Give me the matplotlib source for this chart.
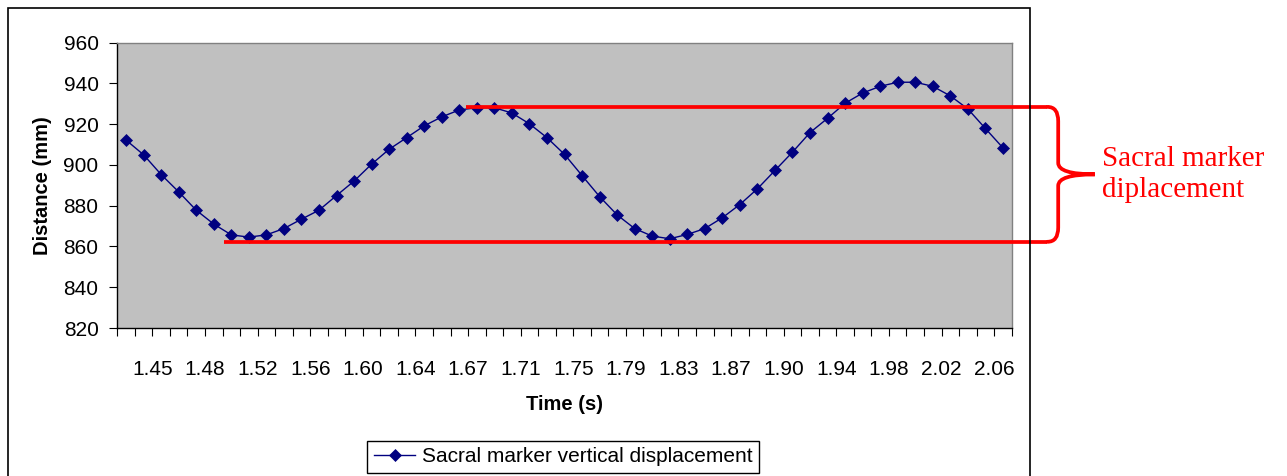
"""
Sacral marker vertical displacement — Excel 스타일 선 그래프 재현.
회색 plot area + 남색 diamond marker 선, 오른쪽에 최대/최소 수평선과 중괄호 주석.
"""
import numpy as np
import matplotlib
matplotlib.use('Agg')
import matplotlib.pyplot as plt
from matplotlib.patches import PathPatch, Rectangle
from matplotlib.path import Path

plt.rcParams.update({
    'font.family': 'sans-serif',
    'font.sans-serif': ['Liberation Sans', 'DejaVu Sans'],
})

# --- data ---
time_labels = ['1.45', '1.48', '1.52', '1.56', '1.60', '1.64', '1.67', '1.71', '1.75',
               '1.79', '1.83', '1.87', '1.90', '1.94', '1.98', '2.02', '2.06']
distance_mm = [912.2, 905.0, 895.3, 886.8, 877.8, 871.0, 865.7, 864.6, 865.7, 868.8,
               873.4, 877.8, 885.0, 892.1, 900.4, 907.7, 913.4, 919.2, 923.6, 927.0,
               928.1, 928.1, 925.5, 920.2, 913.4, 905.2, 894.8, 884.5, 875.5, 868.8,
               865.1, 863.8, 865.9, 868.8, 874.1, 880.6, 888.3, 897.3, 906.3, 915.9,
               922.9, 930.3, 935.3, 938.6, 940.6, 940.6, 938.6, 933.9, 927.5, 917.9,
               908.4]
disp_max_mm = 928.5      # 위쪽 빨간 수평선
disp_min_mm = 862.3      # 아래쪽 빨간 수평선
max_line_start = 19.4    # category index 기준 시작점
min_line_start = 5.6
annot_text = 'Sacral marker\ndiplacement'
series_name = 'Sacral marker vertical displacement'

# --- style ---
_W, _H = 1287, 476
_LINE_COLOR = '#000080'
_RED = '#FF0000'
_RED_LW = 2.7
_TICK_FS = 15
_LABEL_FS = 14.5
_LABEL_STEP = 3          # x tick label 은 3 category 마다


def main():
    fig = plt.figure(figsize=(_W / 100, _H / 100), dpi=100)
    # plot area: x 117~1012 px, y 43~328 px
    ax = fig.add_axes([117.3 / _W, 1 - 328 / _H, (1011.7 - 117.3) / _W, (328 - 42.7) / _H])
    ax.set_facecolor('#C0C0C0')

    n = len(distance_mm)
    x = np.arange(n)
    ax.plot(x, distance_mm, '-', color=_LINE_COLOR, lw=1.0, marker='D', ms=6.3,
            mfc=_LINE_COLOR, mec=_LINE_COLOR, mew=0.5, label=series_name, zorder=3)

    ax.set_xlim(-0.5, n - 0.5)
    ax.set_ylim(820, 960)
    ax.set_yticks(np.arange(820, 961, 20))

    # category 경계마다 tick, label 은 경계 2, 5, 8, ... 위치
    ax.set_xticks(np.arange(-0.5, n, 1.0), minor=True)
    ax.set_xticks(np.arange(len(time_labels)) * _LABEL_STEP + 1.5)
    ax.set_xticklabels(time_labels)
    ax.tick_params(axis='x', which='both', length=6, width=0.8, direction='out',
                   labelsize=_TICK_FS, pad=17)
    ax.tick_params(axis='y', length=6, width=0.8, direction='out',
                   labelsize=_TICK_FS, pad=7.5)

    for side in ('top', 'right'):
        ax.spines[side].set_color('#808080')
        ax.spines[side].set_linewidth(1.0)
    for side in ('left', 'bottom'):
        ax.spines[side].set_color('black')
        ax.spines[side].set_linewidth(1.0)

    ax.set_xlabel('Time (s)', fontsize=_LABEL_FS, fontweight='bold')
    ax.set_ylabel('Distance (mm)', fontsize=_LABEL_FS, fontweight='bold')
    ax.xaxis.set_label_coords(0.5, -0.234)
    ax.yaxis.set_label_coords(-0.073, 0.5)

    # --- 빨간 수평선 + 중괄호 (축 밖까지, data 좌표) ---
    x0, x1 = ax.get_xlim()
    span = x1 - x0
    line_end = x0 + 1.040 * span
    brace_x = x0 + 1.052 * span
    tip_x = x0 + 1.093 * span
    text_x = x0 + 1.101 * span
    mid = (disp_max_mm + disp_min_mm) / 2
    dy = 7.0

    ax.plot([max_line_start, line_end], [disp_max_mm, disp_max_mm], color=_RED,
            lw=_RED_LW, solid_capstyle='butt', clip_on=False, zorder=4)
    ax.plot([min_line_start, line_end], [disp_min_mm, disp_min_mm], color=_RED,
            lw=_RED_LW, solid_capstyle='butt', clip_on=False, zorder=4)

    verts = [(line_end, disp_max_mm), (brace_x, disp_max_mm), (brace_x, disp_max_mm - dy),
             (brace_x, mid + dy * 0.8),
             (brace_x, mid), (tip_x, mid),
             (brace_x, mid), (brace_x, mid - dy * 0.8),
             (brace_x, disp_min_mm + dy),
             (brace_x, disp_min_mm), (line_end, disp_min_mm)]
    codes = [Path.MOVETO, Path.CURVE3, Path.CURVE3,
             Path.LINETO,
             Path.CURVE3, Path.CURVE3,
             Path.CURVE3, Path.CURVE3,
             Path.LINETO,
             Path.CURVE3, Path.CURVE3]
    ax.add_patch(PathPatch(Path(verts, codes), fill=False, ec=_RED, lw=_RED_LW,
                           capstyle='round', clip_on=False, zorder=4))
    ax.text(text_x, mid, annot_text, color=_RED, fontsize=21,
            family=['Liberation Serif', 'DejaVu Serif'], ha='left', va='center',
            linespacing=1.25, clip_on=False)

    # --- legend (아래 가운데) ---
    fig.legend(loc='upper center', bbox_to_anchor=(563 / _W, 1 - 441 / _H),
               fontsize=_TICK_FS, frameon=True, fancybox=False, edgecolor='black',
               framealpha=1.0, handlelength=2.0, handletextpad=0.3, borderpad=0.3,
               borderaxespad=0)

    # --- 바깥 chart 테두리 (아래쪽은 잘림) ---
    fig.add_artist(Rectangle((8 / _W, -0.1), (1030 - 8) / _W, 1 - 8 / _H + 0.1,
                             transform=fig.transFigure, fill=False, ec='black', lw=1.2))

    fig.savefig('out.png', dpi=100)
    plt.close(fig)


if __name__ == '__main__':
    main()
